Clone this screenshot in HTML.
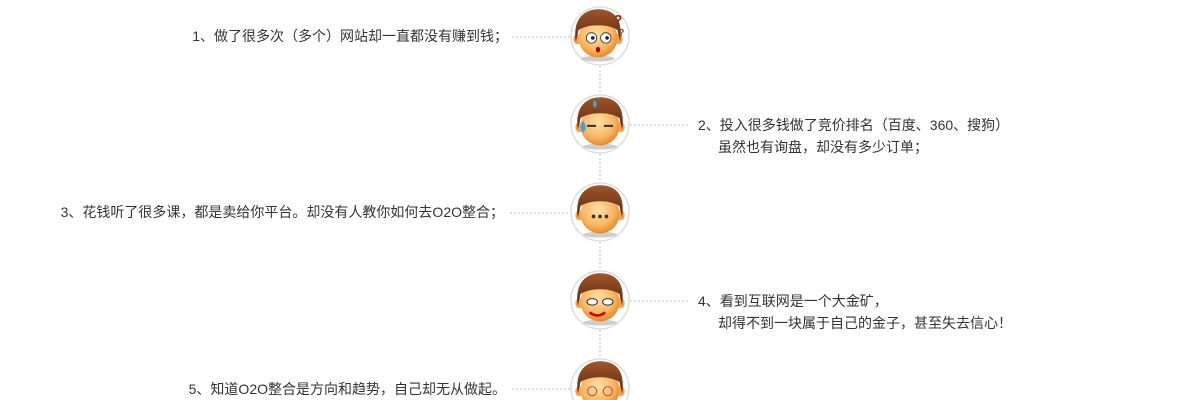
<!DOCTYPE html>
<html><head><meta charset="utf-8"><style>
html,body{margin:0;padding:0;background:#fff;width:1200px;height:400px;overflow:hidden}
svg text{font-family:"Liberation Sans","Noto Sans CJK SC",sans-serif;font-size:14px;fill:#333}
</style></head><body>
<svg width="1200" height="400" viewBox="0 0 1200 400">
<defs>
<radialGradient id="skin" cx="0.45" cy="0.4" r="0.6"><stop offset="0" stop-color="#ffe0a8"/><stop offset="0.7" stop-color="#f9b460"/><stop offset="1" stop-color="#e88a2a"/></radialGradient>
<linearGradient id="hair" x1="0" y1="0" x2="0" y2="1"><stop offset="0" stop-color="#a0552a"/><stop offset="1" stop-color="#5a2a10"/></linearGradient>
<g id="face">
<ellipse cx="0" cy="19" rx="13" ry="2.2" fill="#aaa" opacity="0.6"/>
<ellipse cx="-16" cy="4" rx="3" ry="4" fill="#f4a550"/><ellipse cx="16" cy="4" rx="3" ry="4" fill="#f4a550"/>
<circle cx="0" cy="3" r="15" fill="url(#skin)"/>
<path d="M-17,6 C-20,-14 -8,-19 0,-19 C10,-19 20,-14 17,6 L15,-3 C8,-8 -8,-8 -15,-3 Z" fill="url(#hair)"/>
</g>
</defs>
<g stroke="#bbb" stroke-width="1" stroke-dasharray="2,2" fill="none">
<line x1="600" y1="66" x2="600" y2="94"/><line x1="600" y1="154" x2="600" y2="182"/>
<line x1="600" y1="242" x2="600" y2="270"/><line x1="600" y1="330" x2="600" y2="358"/>
<line x1="512" y1="37" x2="570" y2="37"/><line x1="630" y1="125" x2="690" y2="125"/>
<line x1="510" y1="213" x2="570" y2="213"/><line x1="630" y1="301" x2="690" y2="301"/>
<line x1="512" y1="389" x2="570" y2="389"/>
</g>
<g fill="#fff" stroke="#ddd" stroke-width="1.5">
<circle cx="600" cy="36" r="29"/><circle cx="600" cy="124" r="29"/><circle cx="600" cy="212" r="29"/><circle cx="600" cy="300" r="29"/><circle cx="600" cy="388" r="29"/>
</g>
<g transform="translate(598,34) scale(1.3)"><use href="#face"/>
<circle cx="-5" cy="3" r="4" fill="#fff" stroke="#333" stroke-width="0.6"/><circle cx="6" cy="3" r="4" fill="#fff" stroke="#333" stroke-width="0.6"/>
<circle cx="-4" cy="3" r="1.4" fill="#222"/><circle cx="7" cy="3" r="1.4" fill="#222"/>
<ellipse cx="0" cy="12" rx="1.6" ry="2.2" fill="#a00"/>
<text x="12" y="-7" style="font-size:11px;font-weight:bold;fill:#7a3a10">?</text><text x="16" y="1" style="font-size:7px;font-weight:bold;fill:#7a3a10">?</text></g>
<g transform="translate(600,122) scale(1.3)"><use href="#face"/>
<path d="M-10,3 h7 M3,3 h7" stroke="#333" stroke-width="1.5"/>
<path d="M-13,-1 q-4,6 0,9 q4,-3 0,-9z" fill="#3aa0ea"/><path d="M-4,-17 q-3,4 0,6 q3,-2 0,-6z" fill="#3aa0ea"/></g>
<g transform="translate(600,210) scale(1.3)"><use href="#face"/>
<circle cx="-5" cy="5" r="1.4" fill="#333"/><circle cx="0" cy="5" r="1.4" fill="#333"/><circle cx="5" cy="5" r="1.4" fill="#333"/></g>
<g transform="translate(600,298) scale(1.3)"><use href="#face"/>
<ellipse cx="-6" cy="3" rx="4" ry="2.5" fill="#fff" stroke="#333" stroke-width="0.8"/><ellipse cx="6" cy="3" rx="4" ry="2.5" fill="#fff" stroke="#333" stroke-width="0.8"/>
<path d="M-8,11 q6,5 12,0" stroke="#c00" stroke-width="2" fill="none"/></g>
<g transform="translate(600,386) scale(1.3)"><use href="#face"/>
<circle cx="-6" cy="4" r="3.5" fill="none" stroke="#a55" stroke-width="0.8"/><circle cx="6" cy="4" r="3.5" fill="none" stroke="#a55" stroke-width="0.8"/></g>
<text x="508" y="41" text-anchor="end">1、做了很多次（多个）网站却一直都没有赚到钱；</text>
<text x="698" y="130">2、投入很多钱做了竞价排名（百度、360、搜狗）</text>
<text x="718" y="152">虽然也有询盘，却没有多少订单；</text>
<text x="504" y="217" text-anchor="end">3、花钱听了很多课，都是卖给你平台。却没有人教你如何去O2O整合；</text>
<text x="698" y="306">4、看到互联网是一个大金矿，</text>
<text x="718" y="328">却得不到一块属于自己的金子，甚至失去信心！</text>
<text x="506" y="394" text-anchor="end">5、知道O2O整合是方向和趋势，自己却无从做起。</text>
</svg>
</body></html>
